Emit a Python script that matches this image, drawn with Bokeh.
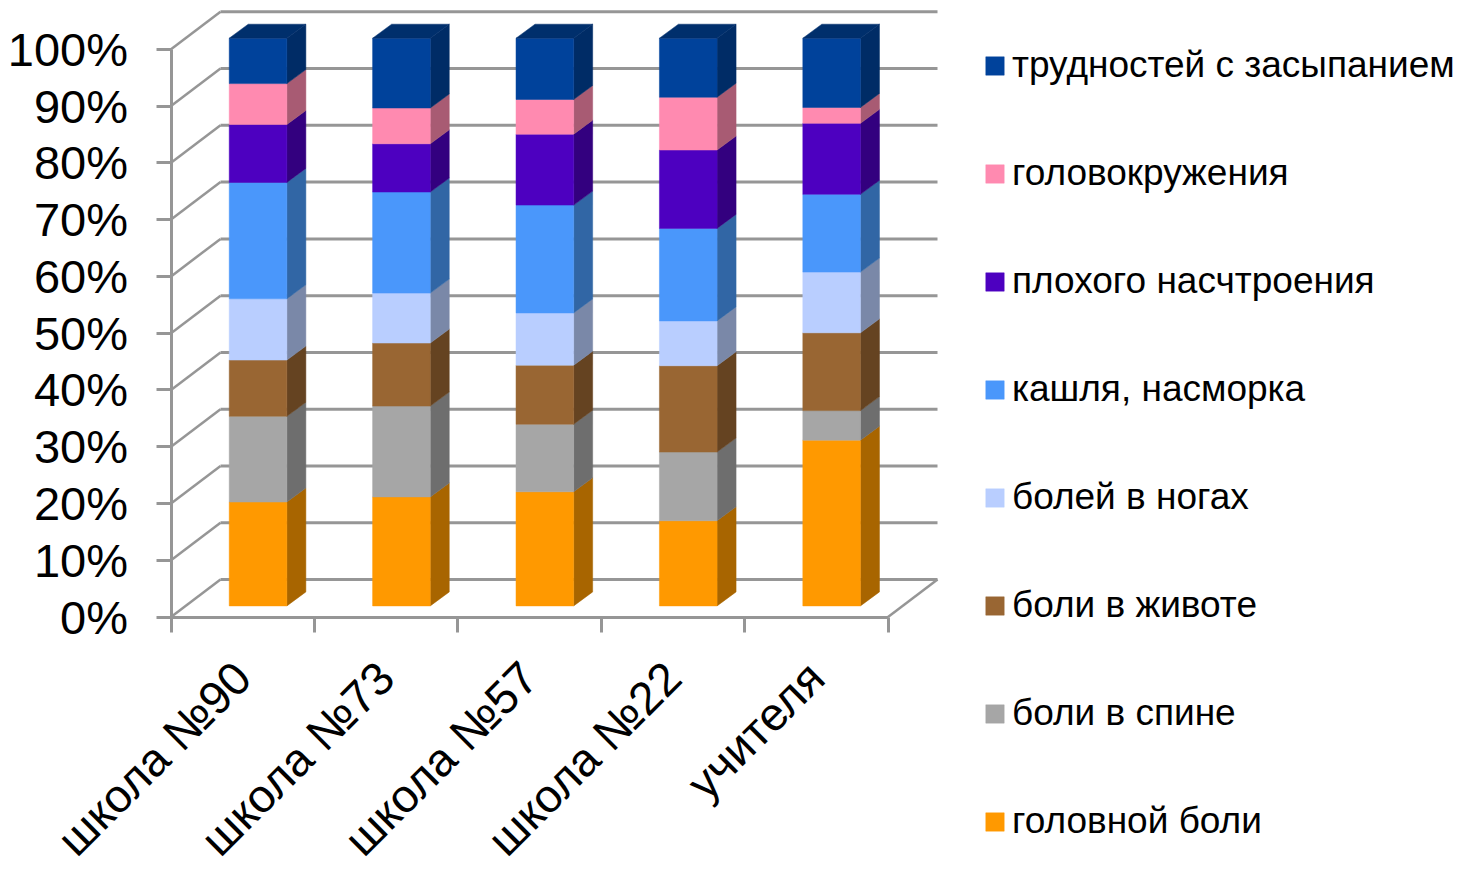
from bokeh.plotting import figure
from bokeh.embed import file_html
from bokeh.resources import INLINE
from bokeh.models import FixedTicker, Legend, LegendItem, Range1d, LinearAxis
import math

categories = ["школа №90", "школа №73", "школа №57", "школа №22", "учителя"]
golovnoy = [18.3, 19.2, 20.1, 15.0, 29.2]
spina = [15.1, 16.0, 11.9, 12.1, 5.2]
zhivot = [9.9, 11.1, 10.4, 15.2, 13.7]
nogi = [10.8, 8.8, 9.2, 7.9, 10.7]
kashel = [20.5, 17.8, 19.0, 16.3, 13.7]
nastroenie = [10.2, 8.5, 12.5, 13.8, 12.5]
golovokr = [7.2, 6.3, 6.1, 9.3, 2.8]
zasyp = [8.0, 12.3, 10.8, 10.4, 12.2]
series_names = ["головной боли", "боли в спине", "боли в животе", "болей в ногах",
                "кашля, насморка", "плохого насчтроения", "головокружения", "трудностей с засыпанием"]
series_values = [golovnoy, spina, zhivot, nogi, kashel, nastroenie, golovokr, zasyp]
front_colors = ["#FF9900", "#A6A6A6", "#996633", "#B9CEFF", "#4A97FB", "#4D00C0", "#FF8AB0", "#00429B"]
side_colors = ["#A86500", "#6E6E6E", "#654321", "#7A88A8", "#3166A5", "#33007F", "#A85B73", "#002C66"]
top_color = "#002F6C"
y_ticks = list(range(0, 101, 10))

PX_X = 143.4
PX_Y = 5.677
ORIGIN_X, ORIGIN_Y = 170.5, 616.5
W, H = 1461, 873
wall_dx, wall_dy = 49.5 / PX_X, 37.5 / PX_Y
bar_dx, bar_dy = 19 / PX_X, 14 / PX_Y
bar_base = (ORIGIN_Y - 605.4) / PX_Y
bar_center, bar_w = 0.607, 0.402

p = figure(width=W, height=H, output_backend="svg", toolbar_location=None,
           x_range=Range1d(-ORIGIN_X / PX_X, (W - ORIGIN_X) / PX_X),
           y_range=Range1d(-(H - ORIGIN_Y) / PX_Y, ORIGIN_Y / PX_Y),
           x_axis_type=None, y_axis_type=None,
           min_border=0, outline_line_color=None,
           background_fill_color="white", border_fill_color="white")
p.grid.visible = False

GRID = "#969696"
# back wall
p.segment(x0=[0] * len(y_ticks), y0=y_ticks, x1=[wall_dx] * len(y_ticks), y1=[v + wall_dy for v in y_ticks],
          line_color=GRID, line_width=2.5)
p.segment(x0=[wall_dx] * len(y_ticks), y0=[v + wall_dy for v in y_ticks],
          x1=[len(categories) + wall_dx] * len(y_ticks), y1=[v + wall_dy for v in y_ticks],
          line_color=GRID, line_width=3)
p.segment(x0=[len(categories)], y0=[0], x1=[len(categories) + wall_dx], y1=[wall_dy],
          line_color=GRID, line_width=2.5)

# bars
items = []
cum = [bar_base] * len(categories)
xs = [i + bar_center for i in range(len(categories))]
for name, vals, fc, sc in zip(series_names, series_values, front_colors, side_colors):
    tops = [c + v for c, v in zip(cum, vals)]
    right = [x + bar_w / 2 for x in xs]
    p.patches(xs=[[r, r + bar_dx, r + bar_dx, r] for r in right],
              ys=[[b, b + bar_dy, t + bar_dy, t] for b, t in zip(cum, tops)],
              fill_color=sc, line_color=sc, line_width=0.5)
    r = p.vbar(x=xs, width=bar_w, bottom=cum, top=tops, fill_color=fc, line_color=fc, line_width=0.5)
    items.append(LegendItem(label=name, renderers=[r]))
    cum = tops
p.patches(xs=[[x - bar_w / 2, x + bar_w / 2, x + bar_w / 2 + bar_dx, x - bar_w / 2 + bar_dx] for x in xs],
          ys=[[t, t, t + bar_dy, t + bar_dy] for t in cum],
          fill_color=top_color, line_color=top_color, line_width=0.5)

# axes, pinned at the chart's origin inside the full-page frame
xa = LinearAxis(fixed_location=0)
xa.ticker = FixedTicker(ticks=[i + 0.5 for i in range(len(categories))],
                        minor_ticks=list(range(len(categories) + 1)))
xa.major_label_overrides = {i + 0.5: c for i, c in enumerate(categories)}
xa.major_label_orientation = math.pi / 4
xa.major_label_text_font = "Liberation Sans"
xa.major_label_text_font_size = "46.5px"
xa.major_label_text_color = "black"
xa.major_label_standoff = 38
xa.major_tick_line_color = None
xa.minor_tick_in = 0
xa.minor_tick_out = 15
xa.minor_tick_line_color = GRID
xa.minor_tick_line_width = 3
xa.axis_line_color = GRID
xa.axis_line_width = 3
xa.bounds = (0, len(categories))
p.add_layout(xa, "below")

ya = LinearAxis(fixed_location=0)
ya.ticker = FixedTicker(ticks=y_ticks, minor_ticks=[])
ya.major_label_overrides = {v: f"{v}%" for v in y_ticks}
ya.major_label_text_font = "Liberation Sans"
ya.major_label_text_font_size = "47px"
ya.major_label_text_color = "black"
ya.major_label_standoff = 28
ya.major_tick_in = 0
ya.major_tick_out = 15
ya.major_tick_line_color = GRID
ya.major_tick_line_width = 3
ya.axis_line_color = GRID
ya.axis_line_width = 3
ya.bounds = (0, 100)
p.add_layout(ya, "left")

legend = Legend(items=items[::-1], location=(983, 31), orientation="vertical",
                border_line_color=None, background_fill_alpha=0, padding=0, margin=0,
                spacing=66, glyph_width=23, glyph_height=23, label_height=40, label_standoff=6,
                label_text_font="Liberation Sans", label_text_font_size="37px", label_text_color="black")
p.add_layout(legend, "center")

open("out.html", "w").write(file_html(p, INLINE))
